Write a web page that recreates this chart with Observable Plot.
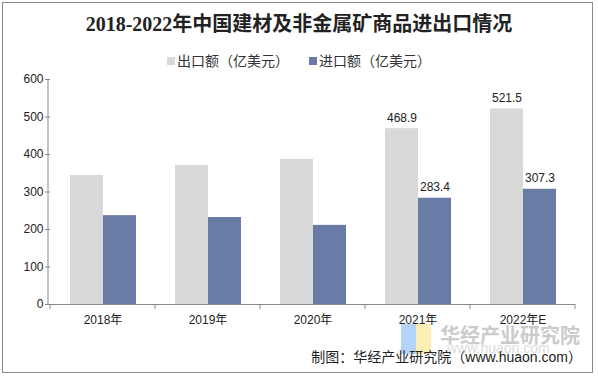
<!DOCTYPE html>
<html><head><meta charset="utf-8">
<script src="https://cdn.jsdelivr.net/npm/d3@7"></script>
<script src="https://cdn.jsdelivr.net/npm/@observablehq/plot@0.6"></script>
<style>
body{margin:0;background:#fff;}
#wrap{position:relative;width:598px;height:378px;overflow:hidden;font-family:"Liberation Sans","Noto Sans CJK SC",sans-serif;}
#border{position:absolute;left:2px;top:2px;width:589px;height:369px;border:1px solid #8a8a8a;}
#title{position:absolute;left:0;top:10px;width:598px;text-align:center;font-family:"Liberation Serif","Noto Sans CJK SC",serif;font-weight:bold;font-size:20px;line-height:28px;color:#222;}
#legend{position:absolute;left:0;top:50px;width:598px;text-align:center;font-size:14px;color:#333;font-family:"Noto Sans CJK SC",sans-serif;}
#legend span.item{margin:0 10px;}
#legend i{display:inline-block;width:8px;height:8px;margin-right:2px;vertical-align:1px;}
#chart{position:absolute;left:0;top:70px;}
#wm{position:absolute;left:440px;top:320px;font-size:20px;font-weight:bold;color:#cbcbcb;font-family:"Noto Sans CJK SC",sans-serif;}
#wm2{position:absolute;left:447px;top:340px;font-size:14px;color:#dcdcdc;}
#logo1{position:absolute;left:401px;top:324px;width:15px;height:30px;background:#b3d3f7;}
#logo2{position:absolute;left:416px;top:324px;width:15px;height:30px;background:#fbefb7;}
#caption{position:absolute;right:16px;top:346px;font-size:14px;color:#222;font-family:"Liberation Sans","Noto Sans CJK SC",sans-serif;}
</style></head>
<body>
<div id="wrap">
<div id="border"></div>
<div id="title"></div>
<div id="legend"></div>
<div id="logo1"></div><div id="logo2"></div>
<div id="wm">华经产业研究院</div>
<div id="wm2">www.huaon.com</div>
<div id="chart"></div>
<div id="caption"></div>
</div>
<script>
const years = ["2018年","2019年","2020年","2021年","2022年E"];
const seriesNames = ["出口额（亿美元）","进口额（亿美元）"];
const exportValues = [344, 371, 387, 468.9, 521.5];
const importValues = [237, 232, 211, 283.4, 307.3];
const labeledYears = ["2021年","2022年E"];
const yTicks = [0,100,200,300,400,500,600];
const colors = ["#d9d9d9","#687ca5"];
const titleText = "2018-2022年中国建材及非金属矿商品进出口情况";
const captionText = "制图：华经产业研究院（www.huaon.com）";

document.getElementById("title").textContent = titleText;
document.getElementById("caption").textContent = captionText;
const leg = document.getElementById("legend");
seriesNames.forEach((s,i)=>{
  const sp = document.createElement("span"); sp.className="item";
  const sw = document.createElement("i"); sw.style.background = colors[i];
  sp.appendChild(sw); sp.appendChild(document.createTextNode(s)); leg.appendChild(sp);
});

const data = [];
years.forEach((y,i)=>{
  data.push({year:y, series:seriesNames[0], value:exportValues[i]});
  data.push({year:y, series:seriesNames[1], value:importValues[i]});
});

const W = 598, H = 262, mL = 48, mR = 22, mT = 9, mB = 28;
const fig = Plot.plot({
  width: W, height: H,
  marginLeft: mL, marginRight: mR, marginTop: mT, marginBottom: mB,
  style: {fontFamily: '"Liberation Sans","Noto Sans CJK SC",sans-serif', fontSize: "12px", color: "#222", background: "transparent"},
  fx: {domain: years, padding: 0, label: null},
  x: {domain: seriesNames, paddingInner: 0, paddingOuter: 0.59, axis: null},
  y: {domain: [0, 600], label: null},
  color: {domain: seriesNames, range: colors},
  marks: [
    Plot.barY(data, {fx: "year", x: "series", y: "value", fill: "series"}),
    Plot.ruleY([0], {stroke: "#8a8a8a"}),
    Plot.text(data, {filter: d => labeledYears.includes(d.year), fx: "year", x: "series", y: "value",
      text: d => d.value.toFixed(1), dy: -7, lineAnchor: "bottom", fill: "#222", fontSize: 12}),
    Plot.axisY({ticks: yTicks, tickSize: 5, tickPadding: 2, stroke: "#8a8a8a", fill: "#222", label: null, fontSize: 12}),
    Plot.axisFx({anchor: "bottom", tickSize: 0, tickPadding: 11, label: null, fill: "#222", fontSize: 12})
  ]
});
document.getElementById("chart").appendChild(fig);

const fx = fig.scale("fx"), ys = fig.scale("y");
const svg = d3.select(fig.tagName.toLowerCase()==="svg" ? fig : fig.querySelector("svg"));
const y0 = ys.apply(0), yTop = ys.apply(600);
svg.append("line").attr("x1", mL).attr("x2", mL).attr("y1", yTop).attr("y2", y0).attr("stroke", "#8a8a8a");
const bounds = years.map(y => fx.apply(y)).concat([fx.apply(years[years.length-1]) + fx.bandwidth]);
bounds.forEach(b => {
  svg.append("line").attr("x1", b).attr("x2", b).attr("y1", y0).attr("y2", y0 + 5).attr("stroke", "#8a8a8a");
});
</script>
</body></html>
